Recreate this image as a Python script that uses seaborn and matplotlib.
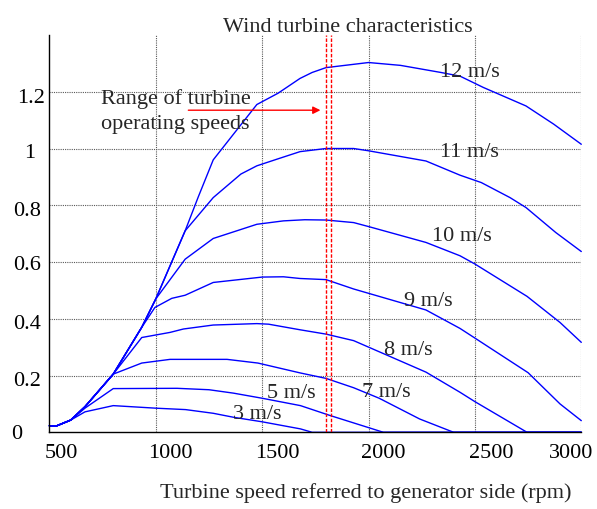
import matplotlib
matplotlib.use("Agg")
import matplotlib.pyplot as plt
import matplotlib.transforms as mtransforms
import numpy as np
import pandas as pd
import seaborn as sns

# Power curves (per-unit) versus turbine speed, one polyline per wind speed label
rpm_3 = [500, 535, 600, 667, 800, 1000, 1140, 1270, 1365, 1500, 1680, 1735, 3000]
p_3 = [0.023, 0.023, 0.043, 0.072, 0.094, 0.085, 0.080, 0.067, 0.053, 0.037, 0.012, 0.0, 0.0]

rpm_5 = [500, 535, 600, 667, 800, 1100, 1250, 1365, 1500, 1680, 1820, 2070, 3000]
p_5 = [0.023, 0.023, 0.043, 0.085, 0.154, 0.155, 0.150, 0.138, 0.120, 0.094, 0.059, 0.0, 0.0]

rpm_7 = [500, 535, 600, 667, 800, 934, 1067, 1335, 1480, 1680, 1800, 1930, 2050, 2240, 2400, 3000]
p_7 = [0.023, 0.023, 0.043, 0.09, 0.205, 0.244, 0.257, 0.257, 0.244, 0.209, 0.19, 0.157, 0.12, 0.047, 0.0, 0.0]

rpm_8 = [500, 535, 600, 667, 800, 934, 1067, 1130, 1270, 1475, 1530, 1680, 1800, 1930, 2270, 2430, 2500, 2745, 3000]
p_8 = [0.023, 0.023, 0.043, 0.09, 0.205, 0.334, 0.352, 0.364, 0.378, 0.383, 0.381, 0.361, 0.346, 0.323, 0.212, 0.141, 0.108, 0.0, 0.0]

rpm_9 = [500, 535, 600, 667, 800, 934, 996, 1075, 1138, 1270, 1500, 1600, 1678, 1800, 1930, 2270, 2430, 2500, 2750, 2900, 3000]
p_9 = [0.023, 0.023, 0.043, 0.09, 0.205, 0.37, 0.44, 0.472, 0.483, 0.528, 0.547, 0.548, 0.542, 0.538, 0.505, 0.431, 0.366, 0.332, 0.21, 0.10, 0.041]

rpm_10 = [500, 535, 600, 667, 800, 934, 1000, 1138, 1270, 1475, 1600, 1700, 1800, 1930, 2000, 2270, 2430, 2500, 2745, 2900, 3000]
p_10 = [0.023, 0.023, 0.043, 0.09, 0.205, 0.37, 0.47, 0.61, 0.683, 0.733, 0.745, 0.749, 0.748, 0.739, 0.725, 0.669, 0.622, 0.593, 0.479, 0.387, 0.317]

rpm_11 = [500, 535, 600, 667, 800, 934, 1000, 1138, 1270, 1400, 1475, 1580, 1678, 1800, 1930, 2000, 2090, 2270, 2430, 2530, 2665, 2740, 2880, 3000]
p_11 = [0.023, 0.023, 0.043, 0.09, 0.205, 0.37, 0.47, 0.71, 0.827, 0.91, 0.939, 0.965, 0.989, 1.0, 1.0, 0.992, 0.98, 0.956, 0.906, 0.88, 0.827, 0.792, 0.704, 0.637]

rpm_12 = [500, 535, 600, 667, 800, 934, 1000, 1138, 1200, 1270, 1475, 1575, 1678, 1735, 1800, 2000, 2150, 2340, 2430, 2540, 2740, 2870, 3000]
p_12 = [0.023, 0.023, 0.043, 0.09, 0.205, 0.37, 0.47, 0.71, 0.83, 0.96, 1.155, 1.195, 1.247, 1.268, 1.285, 1.303, 1.293, 1.268, 1.255, 1.215, 1.15, 1.086, 1.015]

# Curve labels: text, x (rpm), baseline y
label_text = ["12 m/s", "11 m/s", "10 m/s", "9 m/s", "8 m/s", "7 m/s", "5 m/s", "3 m/s"]
label_x = [2338, 2338, 2299, 2169, 2075, 1970, 1522, 1365]
label_y = [1.256, 0.974, 0.678, 0.448, 0.276, 0.129, 0.123, 0.049]

# Operating speed range markers
range_rpm = [1802, 1825]

x_ticks = [500, 1000, 1500, 2000, 2500, 3000]
x_tick_labels = ["500", "1000", "1500", "2000", "2500", "3000"]
y_ticks = [0, 0.2, 0.4, 0.6, 0.8, 1.0, 1.2]
y_tick_labels = ["0", "0.2", "0.4", "0.6", "0.8", "1", "1.2"]

curves = {
    "3 m/s": (rpm_3, p_3), "5 m/s": (rpm_5, p_5), "7 m/s": (rpm_7, p_7),
    "8 m/s": (rpm_8, p_8), "9 m/s": (rpm_9, p_9), "10 m/s": (rpm_10, p_10),
    "11 m/s": (rpm_11, p_11), "12 m/s": (rpm_12, p_12),
}
frames = [pd.DataFrame({"rpm": r, "power": p, "wind": name}) for name, (r, p) in curves.items()]
df = pd.concat(frames, ignore_index=True)

sns.set_theme(style="white")
plt.rcParams["font.family"] = ["Liberation Serif", "DejaVu Serif"]
plt.rcParams["font.size"] = 16

fig = plt.figure(figsize=(5.97, 5.10), dpi=100)
ax = fig.add_axes([49.4 / 597, 1 - 433.3 / 510, (581.3 - 49.4) / 597, (433.3 - 36) / 510])

sns.lineplot(data=df, x="rpm", y="power", hue="wind", units="wind", estimator=None,
             palette=["#0000ff"] * len(curves), legend=False, linewidth=1.0, ax=ax,
             clip_on=False)

ax.set_xlim(500, 3000)
ax.set_ylim(0, 1.4)
ax.set_xticks(x_ticks)
ax.set_xticklabels(x_tick_labels)
ax.set_yticks(y_ticks)
ax.set_yticklabels(y_tick_labels)
ax.set_xlabel("")
ax.set_ylabel("")

grid_kw = dict(color="0.35", linestyle=(0, (1, 1)), linewidth=0.8, zorder=0)
for gx in x_ticks[1:]:
    ax.axvline(gx, **grid_kw)
for gy in y_ticks[1:]:
    ax.axhline(gy, **grid_kw)

for s in ["top", "right"]:
    ax.spines[s].set_visible(False)
for s in ["left", "bottom"]:
    ax.spines[s].set_color("black")
    ax.spines[s].set_linewidth(1.0)

ax.tick_params(axis="both", direction="in", length=3, width=1, color="black",
               labelsize=16, labelcolor="black")
ax.tick_params(axis="x", pad=8)
ax.tick_params(axis="y", pad=6)

# Tick label placement as typeset (pixel shifts)
x_shift_px = [12, 15, 15, 15, 16, -10]
for lbl, dx in zip(ax.get_xticklabels(), x_shift_px):
    lbl.set_transform(lbl.get_transform() + mtransforms.ScaledTranslation(dx / 100, 0, fig.dpi_scale_trans))
y_shift_px = [(-19, 1), (0, -2), (0, -2), (0, 0), (0, -3), (-6, -1), (4, -3)]
for lbl, (dx, dy) in zip(ax.get_yticklabels(), y_shift_px):
    lbl.set_transform(lbl.get_transform() + mtransforms.ScaledTranslation(dx / 100, dy / 100, fig.dpi_scale_trans))

for rx in range_rpm:
    ax.axvline(rx, color="red", linestyle=(0, (2.5, 1.2)), linewidth=1.0, zorder=3)

ax.annotate("", xy=(1774, 1.135), xytext=(1153, 1.135),
            arrowprops=dict(arrowstyle="-|>", color="red", lw=1.0, mutation_scale=11,
                            shrinkA=0, shrinkB=0))
ax.text(743, 1.1595, "Range of turbine", ha="left", va="baseline", fontsize=16)
ax.text(743, 1.074, "operating speeds", ha="left", va="baseline", fontsize=16)

for t, lx, ly in zip(label_text, label_x, label_y):
    ax.text(lx, ly, t, ha="left", va="baseline", fontsize=16)

fig.text(347.5 / 597, 1 - 31.7 / 510, "Wind turbine characteristics", ha="center", va="baseline", fontsize=16)
fig.text(366 / 597, 1 - 498 / 510, "Turbine speed referred to generator side (rpm)", ha="center", va="baseline", fontsize=16)

fig.savefig("out.png", dpi=100)
